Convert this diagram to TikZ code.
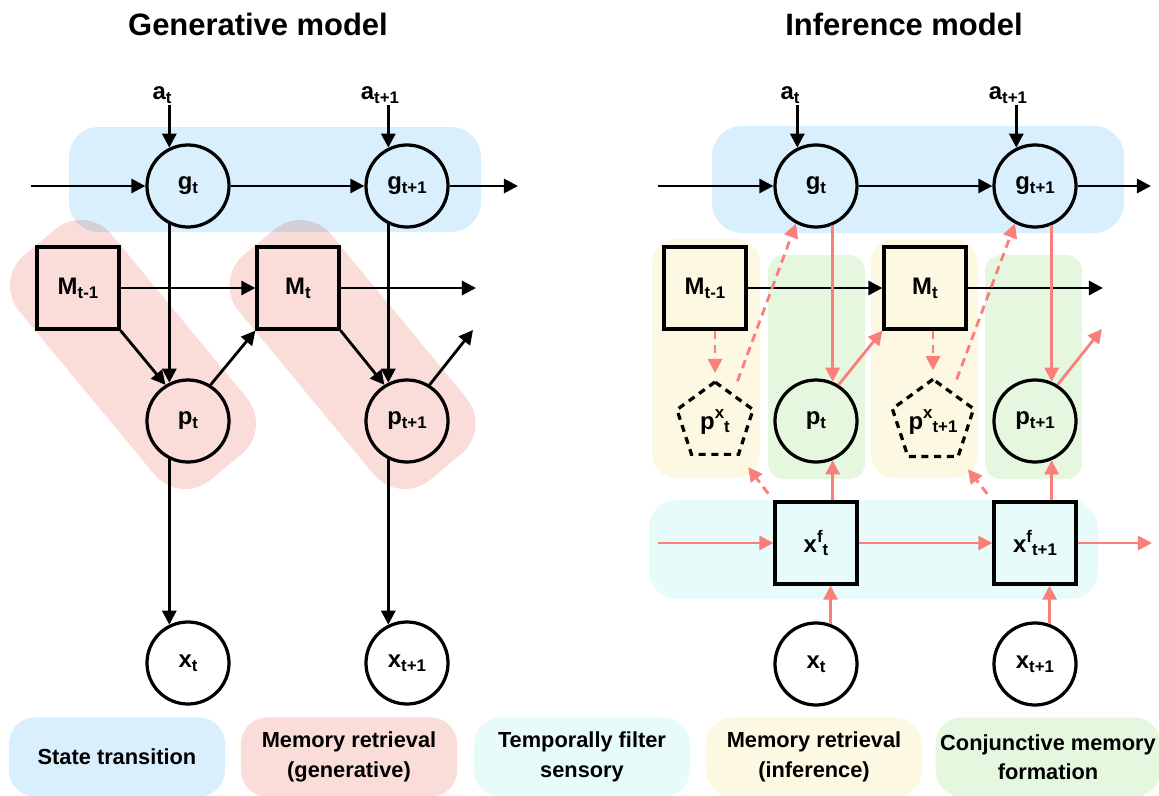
\documentclass[tikz,border=0pt]{standalone}
\usepackage{fontspec}
\setmainfont{Liberation Sans}
\usetikzlibrary{positioning}
\usetikzlibrary{calc}
\usetikzlibrary{shapes.geometric}
\usetikzlibrary{arrows.meta}
\usetikzlibrary{backgrounds}

\definecolor{bandblue}{HTML}{D9EFFD}
\definecolor{bandred}{HTML}{FADCD9}
\definecolor{bandyellow}{HTML}{FDF8E2}
\definecolor{bandgreen}{HTML}{E5F7DF}
\definecolor{bandcyan}{HTML}{E7FCFA}
\definecolor{infred}{HTML}{FA7F7A}

\newcommand{\lowidx}[1]{\raisebox{-0.3ex}{\fontsize{12}{12}\selectfont #1}}
\newcommand{\highidx}[1]{\raisebox{0.8ex}{\fontsize{12}{12}\selectfont #1}}

\begin{document}
\begin{tikzpicture}[x=0.025cm, y=-0.025cm,
  var/.style={circle, draw, line width=2.3pt, minimum size=2.05cm, inner sep=0pt,
    font=\fontsize{17}{18}\selectfont\bfseries},
  mem/.style={rectangle, draw, line width=2.3pt, minimum size=2.05cm, inner sep=0pt,
    font=\fontsize{17}{18}\selectfont\bfseries},
  guess/.style={regular polygon, regular polygon sides=5, draw, line width=2.3pt,
    dash pattern=on 5pt off 4pt, minimum size=2.0cm, inner sep=0pt,
    font=\fontsize{17}{18}\selectfont\bfseries},
  lbl/.style={inner sep=1pt, font=\fontsize{17}{18}\selectfont\bfseries},
  title/.style={font=\fontsize{22}{26}\selectfont\bfseries},
  key/.style={rounded corners=0.65cm, minimum width=5.4cm, minimum height=1.975cm,
    align=center, font=\fontsize{15.5}{21}\selectfont\bfseries},
  redband/.style={fill=bandred, rounded corners=1cm, minimum width=7.3cm,
    minimum height=3.0cm, rotate=-50.4},
  gen/.style={line width=2pt, -{Triangle[length=10pt,width=10pt]}},
  inf/.style={gen, infred},
  infdash/.style={inf, dash pattern=on 6pt off 4pt},
]

\useasboundingbox (0, 0) rectangle (1159, 796);

\node [title] (genTitle) at (258, 24) {Generative model};
\node [title] (infTitle) at (904, 24) {Inference model};

% generative model
\node [var] (gL1) at (188, 186) {g\lowidx{t}};
\node [var] (gL2) at (407, 186) {g\lowidx{t+1}};
\node [mem] (ML1) at (78, 288) {M\lowidx{t-1}};
\node [mem] (ML2) at (298, 288) {M\lowidx{t}};
\node [var] (pL1) at (188, 421) {p\lowidx{t}};
\node [var] (pL2) at (407, 421) {p\lowidx{t+1}};
\node [var] (xL1) at (188, 663) {x\lowidx{t}};
\node [var] (xL2) at (407, 663) {x\lowidx{t+1}};
\node [lbl] (aL1) at (162, 95) {a\lowidx{t}};
\node [lbl] (aL2) at (380, 95) {a\lowidx{t+1}};
\coordinate (gLin) at (31, 186);
\coordinate (gLout) at (518, 186);
\coordinate (MLout) at (476, 288);
\coordinate (pLout) at (473, 330);

\draw [gen] (gLin) -- (gL1);
\draw [gen] (gL1) -- (gL2);
\draw [gen] (gL2) -- (gLout);
\draw [gen] (aL1.south -| gL1.116) -- (gL1.116);
\draw [gen] (aL2.south -| gL2.116) -- (gL2.116);
\draw [gen] (gL1.244) -- (pL1.116);
\draw [gen] (gL2.244) -- (pL2.116);
\draw [gen] (pL1.244) -- (xL1.116);
\draw [gen] (pL2.244) -- (xL2.116);
\draw [gen] (ML1) -- (ML2);
\draw [gen] (ML2) -- (MLout);
\draw [gen] (ML1.south east) -- (pL1.122);
\draw [gen] (ML2.south east) -- (pL2.122);
\draw [gen] (pL1.58) -- (ML2.south west);
\draw [gen] (pL2.58) -- (pLout);

% inference model
\node [var] (gR1) at (816, 186) {g\lowidx{t}};
\node [var] (gR2) at (1035, 186) {g\lowidx{t+1}};
\node [mem] (MR1) at (705, 288) {M\lowidx{t-1}};
\node [mem] (MR2) at (925, 288) {M\lowidx{t}};
\node [guess] (qR1) at (715, 422) {p\highidx{x}\lowidx{t}};
\node [guess] (qR2) at (933, 422) {p\highidx{x}\lowidx{t+1}};
\node [var] (pR1) at (816, 421) {p\lowidx{t}};
\node [var] (pR2) at (1035, 421) {p\lowidx{t+1}};
\node [mem] (fR1) at (816, 543) {x\highidx{f}\lowidx{t}};
\node [mem] (fR2) at (1035, 543) {x\highidx{f}\lowidx{t+1}};
\node [var] (xR1) at (816, 664) {x\lowidx{t}};
\node [var] (xR2) at (1035, 664) {x\lowidx{t+1}};
\node [lbl] (aR1) at (790, 95) {a\lowidx{t}};
\node [lbl] (aR2) at (1008, 95) {a\lowidx{t+1}};
\coordinate (gRin) at (658, 186);
\coordinate (gRout) at (1151, 186);
\coordinate (MRout) at (1103, 288);
\coordinate (pRout) at (1102, 329);
\coordinate (fRin) at (658, 543);
\coordinate (fRout) at (1152, 543);

\draw [gen] (gRin) -- (gR1);
\draw [gen] (gR1) -- (gR2);
\draw [gen] (gR2) -- (gRout);
\draw [gen] (aR1.south -| gR1.116) -- (gR1.116);
\draw [gen] (aR2.south -| gR2.116) -- (gR2.116);
\draw [gen] (MR1) -- (MR2);
\draw [gen] (MR2) -- (MRout);

\draw [inf] (gR1.293) -- (pR1.67);
\draw [inf] (gR2.293) -- (pR2.67);
\draw [inf] (pR1.58) -- (MR2.south west);
\draw [inf] (pR2.58) -- (pRout);
\draw [inf] (pR1.293 |- fR1.north) -- (pR1.293);
\draw [inf] (pR2.293 |- fR2.north) -- (pR2.293);
\draw [inf] (xR1.70) -- (xR1.70 |- fR1.south);
\draw [inf] (xR2.70) -- (xR2.70 |- fR2.south);
\draw [inf] (fRin) -- (fR1);
\draw [inf] (fR1) -- (fR2);
\draw [inf] (fR2) -- (fRout);

\draw [infdash, shorten >=5pt] (qR1.north |- MR1.south) -- (qR1.north);
\draw [infdash, shorten >=5pt] (qR2.north |- MR2.south) -- (qR2.north);
\draw [infdash, shorten <=9pt] (qR1.58) -- (gR1.242);
\draw [infdash, shorten <=9pt] (qR2.58) -- (gR2.242);
\draw [infdash, shorten <=6pt, shorten >=10pt] (fR1.north west) -- (qR1.306);
\draw [infdash, shorten <=6pt, shorten >=10pt] (fR2.north west) -- (qR2.306);

% legend
\node [key, fill=bandblue] (key1) at (117, 757) {State transition};
\node [key, fill=bandred] (key2) at (349, 757) {Memory retrieval\\(generative)};
\node [key, fill=bandcyan] (key3) at (582, 757) {Temporally filter\\sensory};
\node [key, fill=bandyellow] (key4) at (814, 757) {Memory retrieval\\(inference)};
\node [key, fill=bandgreen] (key5) at (1048, 757) {Conjunctive memory\\formation};

\begin{scope}[on background layer]
\fill [bandblue, rounded corners=0.75cm] (69, 127) rectangle (481, 232);
\fill [bandblue, rounded corners=0.75cm] (712, 126) rectangle (1124, 233);
\begin{scope}[blend mode=multiply]
\node [redband] (memL1) at ($(ML1)!0.5!(pL1)$) {};
\node [redband] (memL2) at ($(ML2)!0.5!(pL2)$) {};
\end{scope}
\fill [bandyellow, rounded corners=0.6cm] (652, 239) rectangle (760, 478);
\fill [bandyellow, rounded corners=0.6cm] (871, 239) rectangle (978, 478);
\fill [bandgreen, rounded corners=0.4cm] (768, 255) rectangle (865, 479);
\fill [bandgreen, rounded corners=0.4cm] (985, 255) rectangle (1082, 479);
\fill [bandcyan, rounded corners=0.7cm] (649, 500) rectangle (1098, 599);
\end{scope}

\end{tikzpicture}
\end{document}
